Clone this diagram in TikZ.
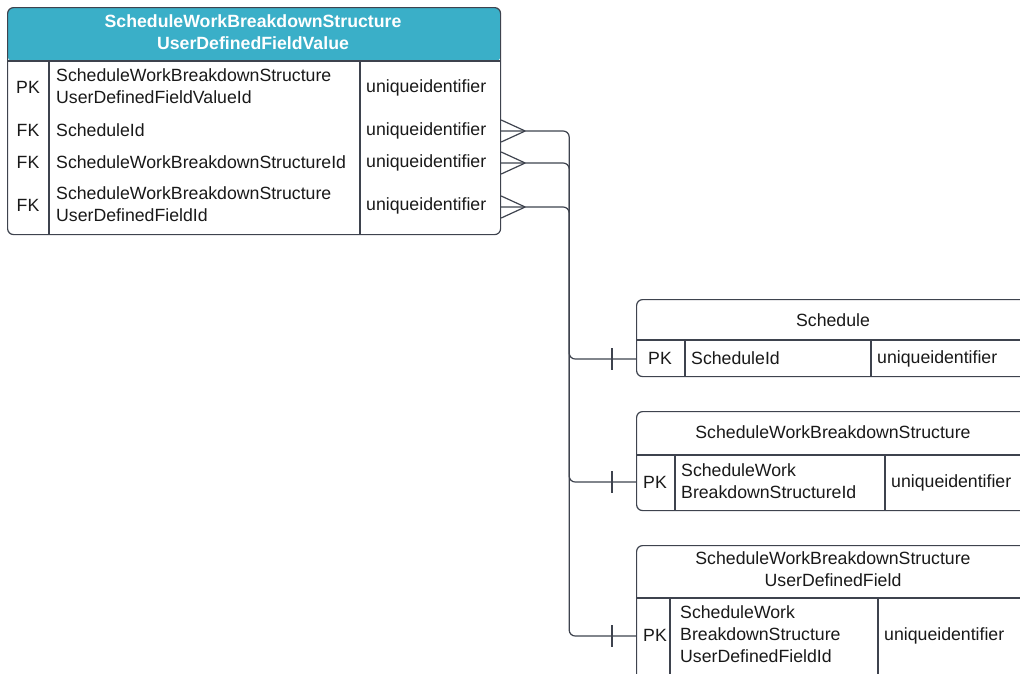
\documentclass[tikz,border=0pt]{standalone}
\usepackage{fontspec}
\setmainfont{Liberation Sans}
\definecolor{linec}{RGB}{62,67,78}
\definecolor{headc}{RGB}{58,175,200}
\definecolor{txtc}{RGB}{25,25,25}
\begin{document}
\begin{tikzpicture}[x=1pt,y=-1pt,
  tbl/.style={draw=linec,line width=1.2pt,rounded corners=6pt,inner sep=0pt,anchor=north west},
  sep/.style={draw=linec,line width=1.2pt},
  txt/.style={font=\fontsize{17.7}{22}\selectfont,text=txtc,inner sep=0pt,align=left},
  ttl/.style={font=\fontsize{17.7}{22}\selectfont,text=txtc,inner sep=0pt,align=center},
  hdr/.style={font=\bfseries\fontsize{17.7}{22}\selectfont,text=white,inner sep=0pt,align=center},
  rel/.style={draw=linec,line width=1.2pt,rounded corners=6pt},
  endmark/.style={draw=linec,line width=1.2pt}]
\useasboundingbox (0,0) rectangle (1020,673);
\clip (0,0) rectangle (1020,673);
% ---- main table
\node[tbl,minimum width=493pt,minimum height=227pt,
  path picture={\fill[headc] (path picture bounding box.north west) rectangle ([yshift=-54pt]path picture bounding box.north east);}] (vtab) at (7,7) {};
\draw[sep] (7,61) -- (500,61);
\draw[sep] (49,61) -- (49,234);
\draw[sep] (360,61) -- (360,234);
\node[hdr] (vtitle) at (253,32) {ScheduleWorkBreakdownStructure\\UserDefinedFieldValue};
\node[txt] (vk0) at (28,87) {PK};
\node[txt,anchor=west] (vn0) at (56,86) {ScheduleWorkBreakdownStructure\\UserDefinedFieldValueId};
\node[txt,anchor=west] (vt0) at (366,87.5) {uniqueidentifier};
\node[txt] (vk1) at (28,130) {FK};
\node[txt,anchor=west] (vn1) at (56,130) {ScheduleId};
\node[txt,anchor=west] (vt1) at (366,130.5) {uniqueidentifier};
\node[txt] (vk2) at (28,162) {FK};
\node[txt,anchor=west] (vn2) at (56,162) {ScheduleWorkBreakdownStructureId};
\node[txt,anchor=west] (vt2) at (366,162.5) {uniqueidentifier};
\node[txt] (vk3) at (28,205) {FK};
\node[txt,anchor=west] (vn3) at (56,204) {ScheduleWorkBreakdownStructure\\UserDefinedFieldId};
\node[txt,anchor=west] (vt3) at (366,205.5) {uniqueidentifier};
% ---- Schedule
\node[tbl,minimum width=394pt,minimum height=77pt] (sch) at (636,299) {};
\draw[sep] (636,340) -- (1030,340);
\draw[sep] (685,340) -- (685,376);
\draw[sep] (871,340) -- (871,376);
\node[ttl] (schtitle) at (833,320) {Schedule};
\node[txt] (schk) at (660,358) {PK};
\node[txt,anchor=west] (schn) at (691,358) {ScheduleId};
\node[txt,anchor=west] (scht) at (877,358.5) {uniqueidentifier};
% ---- ScheduleWorkBreakdownStructure
\node[tbl,minimum width=394pt,minimum height=99pt] (wbs) at (636,411) {};
\draw[sep] (636,455) -- (1030,455);
\draw[sep] (675,455) -- (675,510);
\draw[sep] (885,455) -- (885,510);
\node[ttl] (wbstitle) at (833,432) {ScheduleWorkBreakdownStructure};
\node[txt] (wbsk) at (655,482) {PK};
\node[txt,anchor=west] (wbsn) at (681,481) {ScheduleWork\\BreakdownStructureId};
\node[txt,anchor=west] (wbst) at (891,482.5) {uniqueidentifier};
% ---- ScheduleWorkBreakdownStructureUserDefinedField
\node[tbl,minimum width=394pt,minimum height=145pt] (udf) at (636,545) {};
\draw[sep] (636,598) -- (1030,598);
\draw[sep] (670,598) -- (670,690);
\draw[sep] (878,598) -- (878,690);
\node[ttl] (udftitle) at (833,569) {ScheduleWorkBreakdownStructure\\UserDefinedField};
\node[txt] (udfk) at (655,635) {PK};
\node[txt,anchor=west] (udfn) at (680,634) {ScheduleWork\\BreakdownStructure\\UserDefinedFieldId};
\node[txt,anchor=west] (udft) at (884,635.5) {uniqueidentifier};
% ---- ports
\coordinate (p1) at (vtab.east |- 0,131);
\coordinate (p2) at (vtab.east |- 0,163);
\coordinate (p3) at (vtab.east |- 0,207);
\coordinate (q1) at (sch.west |- 0,359);
\coordinate (q2) at (wbs.west |- 0,482);
\coordinate (q3) at (udf.west |- 0,636);
% ---- relations
\foreach \p/\q in {p1/q1,p2/q2,p3/q3}{
  \draw[rel] (\p) -- ([xshift=68pt]\p) |- (\q);
  \draw[endmark] ([xshift=24pt]\p) -- ([yshift=11pt]\p);
  \draw[endmark] ([xshift=24pt]\p) -- ([yshift=-11pt]\p);
  \draw[endmark] ([xshift=-24pt,yshift=11pt]\q) -- ([xshift=-24pt,yshift=-11pt]\q);
}
\end{tikzpicture}
\end{document}
